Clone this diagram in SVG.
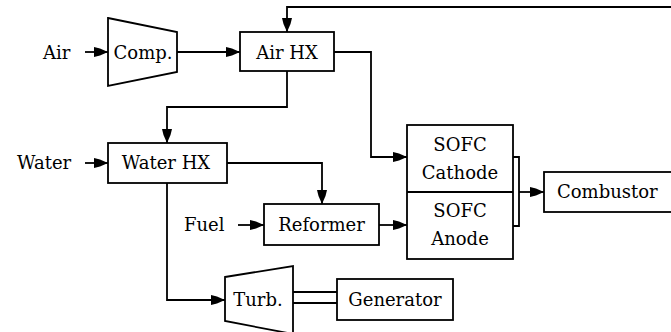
<svg xmlns="http://www.w3.org/2000/svg" width="671" height="332" viewBox="0 0 671 332">
<style>
.box{fill:#fff;stroke:#000;stroke-width:1.8}
.ln{fill:none;stroke:#000;stroke-width:1.8}
text{font-family:'DejaVu Serif','Liberation Serif',serif;font-size:18px;fill:#000}
.c{text-anchor:middle}
</style>
<defs>
<marker id="ah" viewBox="0 0 14 10" refX="14" refY="5" markerWidth="14" markerHeight="10" markerUnits="userSpaceOnUse" orient="auto">
<path d="M0,0 L6,1.5 L14,5 L6,8.5 L0,10 z" fill="#000"/>
</marker>
</defs>
<rect width="671" height="332" fill="#fff"/>
<g id="connectors">
<path class="ln" d="M85,52 H108" marker-end="url(#ah)"/>
<path class="ln" d="M177,52 H240" marker-end="url(#ah)"/>
<path class="ln" d="M672,7 H287 V32" marker-end="url(#ah)"/>
<path class="ln" d="M334,52 H371 V157 H407" marker-end="url(#ah)"/>
<path class="ln" d="M287,71 V107 H167 V143" marker-end="url(#ah)"/>
<path class="ln" d="M85,163 H108" marker-end="url(#ah)"/>
<path class="ln" d="M227,163 H322 V204" marker-end="url(#ah)"/>
<path class="ln" d="M238,225 H264" marker-end="url(#ah)"/>
<path class="ln" d="M379,225 H407" marker-end="url(#ah)"/>
<path class="ln" d="M167,183 V300 H225" marker-end="url(#ah)"/>
<path class="ln" d="M513,157 H519 V226 H513"/>
<path class="ln" d="M519,192 H544" marker-end="url(#ah)"/>
<path class="ln" d="M293,292 H337 M293,303 H337"/>
</g>
<g id="air-label"><text x="43" y="59">Air</text></g>
<g id="water-label"><text x="17" y="169">Water</text></g>
<g id="fuel-label"><text x="184" y="231">Fuel</text></g>
<g id="comp">
<polygon class="box" points="108,18 177,32 177,72 108,86"/>
<text class="c" x="143" y="59">Comp.</text>
</g>
<g id="air-hx">
<rect class="box" x="240" y="32" width="94" height="39"/>
<text class="c" x="287" y="59">Air HX</text>
</g>
<g id="water-hx">
<rect class="box" x="108" y="143" width="119" height="40"/>
<text class="c" x="166" y="169">Water HX</text>
</g>
<g id="reformer">
<rect class="box" x="264" y="204" width="115" height="41"/>
<text class="c" x="321.5" y="231">Reformer</text>
</g>
<g id="sofc">
<rect class="box" x="407" y="125" width="106" height="134"/>
<line class="ln" x1="407" y1="192" x2="513" y2="192"/>
<text class="c" x="460" y="151">SOFC</text>
<text class="c" x="460" y="179">Cathode</text>
<text class="c" x="460" y="217">SOFC</text>
<text class="c" x="460" y="245">Anode</text>
</g>
<g id="combustor">
<rect class="box" x="544" y="172" width="140" height="40"/>
<text x="557" y="198">Combustor</text>
</g>
<g id="turb">
<polygon class="box" points="225,277 293,266 293,334 225,321"/>
<text class="c" x="258" y="306">Turb.</text>
</g>
<g id="generator">
<rect class="box" x="337" y="279" width="116" height="41"/>
<text class="c" x="395" y="306">Generator</text>
</g>
</svg>
